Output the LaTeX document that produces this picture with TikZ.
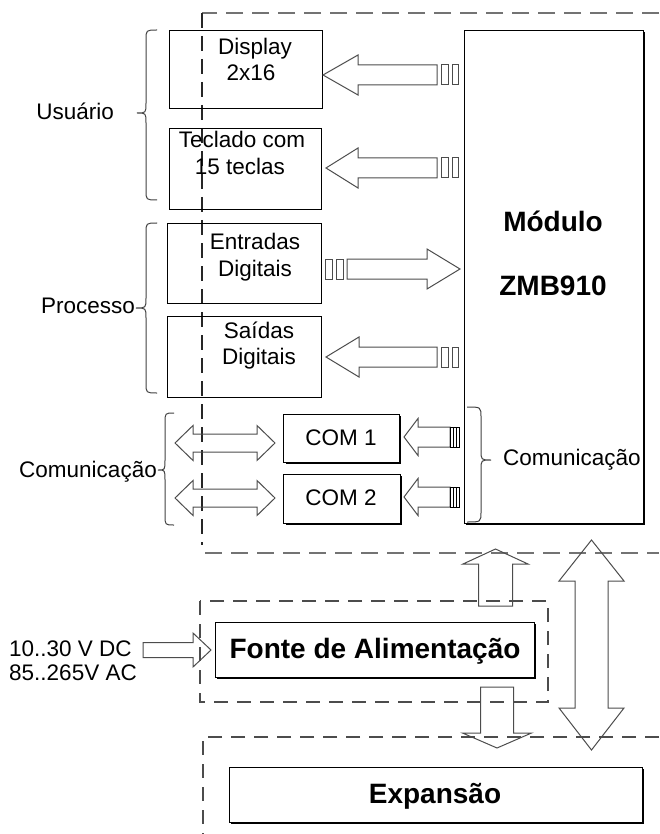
\documentclass[tikz,border=0pt]{standalone}
\usepackage{fontspec}
\setmainfont{Liberation Sans}
\newcommand\blkH[6]{\draw[arr] (#1,#2) -- (#3,#2-#5) -- (#3,#2-#6) -- (#4,#2-#6) -- (#4,#2+#6) -- (#3,#2+#6) -- (#3,#2+#5) -- cycle;}
\newcommand\blkV[6]{\draw[arr] (#2,#1) -- (#2-#5,#3) -- (#2-#6,#3) -- (#2-#6,#4) -- (#2+#6,#4) -- (#2+#6,#3) -- (#2+#5,#3) -- cycle;}
\newcommand\blkHH[6]{\draw[arr] (#1,#3) -- (#1+#4,#3-#5) -- (#1+#4,#3-#6) -- (#2-#4,#3-#6) -- (#2-#4,#3-#5) -- (#2,#3) -- (#2-#4,#3+#5) -- (#2-#4,#3+#6) -- (#1+#4,#3+#6) -- (#1+#4,#3+#5) -- cycle;}
\newcommand\myBrace[7]{% e v t y1 ym y2 r
\draw[brc] (#1,#4) .. controls (#2,#4) and (#2,#4) .. (#2,#4+#7) -- (#2,#5-#7) .. controls (#2,#5) and (#2,#5) .. (#3,#5) .. controls (#2,#5) and (#2,#5) .. (#2,#5+#7) -- (#2,#6-#7) .. controls (#2,#6) and (#2,#6) .. (#1,#6);}
\begin{document}
\begin{tikzpicture}[x=1pt,y=-1pt,
  box/.style={draw=black, line width=1.2pt, inner sep=0pt, anchor=north west},
  arr/.style={draw=black!70, line width=1pt, line join=miter},
  barbox/.style={draw=black!70, line width=1pt},
  brc/.style={draw=black!75, line width=1pt},
  txt/.style={font=\fontsize{22.5}{26}\selectfont, inner sep=0pt, anchor=base},
  btxt/.style={font=\fontsize{28}{32}\selectfont\bfseries, inner sep=0pt, anchor=base},
  dsh/.style={draw=black!55, line width=2pt, dash pattern=on 17pt off 9pt},
  dshv/.style={draw=black!85, line width=1.2pt, dash pattern=on 15pt off 8pt},
  shd/.style={draw=black, line width=1.8pt},
]
\useasboundingbox (0,0) rectangle (659,834);
% dashed regions
\draw[dsh] (659,13) -- (202,13);
\draw[dshv] (202,13) -- (202,545);
\draw[dsh] (205,553) -- (659,553);
\draw[dsh, draw=black!70, line width=1.6pt, dash pattern=on 14pt off 9pt] (200,601) rectangle (548,702);
\draw[dsh, draw=black!70, line width=1.6pt, dash pattern=on 14pt off 9pt] (659,737) -- (203,737) -- (203,834);

% boxes
\node[box, minimum width=153pt, minimum height=78pt] (disp) at (169,30) {};
\node[box, minimum width=152pt, minimum height=81pt] (tecl) at (169,128) {};
\node[box, minimum width=154pt, minimum height=80pt] (entr) at (167,223) {};
\node[box, minimum width=154pt, minimum height=81pt] (said) at (167,316) {};
\node[box, minimum width=116pt, minimum height=48pt] (com1) at (283,414) {};
\node[box, minimum width=117pt, minimum height=49pt] (com2) at (283,474) {};
\node[box, minimum width=179pt, minimum height=493pt] (mod) at (464,30) {};
\node[box, minimum width=319pt, minimum height=55pt] (fonte) at (215,622) {};
\node[box, minimum width=413pt, minimum height=55pt] (exp) at (229,767) {};
% shadows
\draw[shd] (285.5,463) -- (400,463) -- (400,416);
\draw[shd] (285.5,524) -- (401,524) -- (401,476);
\draw[shd] (466,524) -- (644,524) -- (644,32);
\draw[shd] (217,678) -- (535,678) -- (535,624);
\draw[shd] (231,823) -- (643,823) -- (643,769);

% texts
\node[txt] (t1) at (255,55) {Display};
\node[txt] (t2) at (251,81) {2x16};
\node[txt] (t3) at (242,148) {Teclado com};
\node[txt] (t4) at (240,175) {15 teclas};
\node[txt] (t5) at (255,249) {Entradas};
\node[txt] (t6) at (255,276) {Digitais};
\node[txt] (t7) at (259,338) {Saídas};
\node[txt] (t8) at (259,364) {Digitais};
\node[txt] (t9) at (341,445) {COM 1};
\node[txt] (t10) at (341,505) {COM 2};
\node[btxt] (m1) at (553,232) {Módulo};
\node[btxt] (m2) at (553,295) {ZMB910};
\node[btxt] (f1) at (375,658) {Fonte de Alimentação};
\node[btxt] (e1) at (435,803) {Expansão};
\node[txt, anchor=base east] (u1) at (114,120) {Usuário};
\node[txt, anchor=base east] (p1) at (135,313) {Processo};
\node[txt, anchor=base east] (c1) at (157,477) {Comunicação};
\node[txt, anchor=base west] (c2) at (503,465) {Comunicação};
\node[txt, anchor=base west] (v1) at (9,656) {10..30 V DC};
\node[txt, anchor=base west] (v2) at (9,680) {85..265V AC};

% braces
\myBrace{157}{146}{137}{30}{113}{200}{10}
\myBrace{157}{146}{136}{223}{308}{393}{10}
\myBrace{174}{165}{158}{413}{470}{525}{10}
\myBrace{467}{481}{491}{407}{460}{522}{10}

% user/process arrows
\blkH{323}{75}{358}{437}{20}{10}
\draw[barbox] (441,65) rectangle (448,85) (452,65) rectangle (458,85);
\blkH{326}{168}{358}{437}{20}{10}
\draw[barbox] (441,158) rectangle (448,178) (452,158) rectangle (458,178);
\blkH{460}{269}{427}{347}{20}{10}
\draw[barbox] (325,259) rectangle (332,279) (336,259) rectangle (343,279);
\blkH{326}{357}{359}{437}{20}{10}
\draw[barbox] (441,347) rectangle (448,367) (452,347) rectangle (458,367);

% COM arrows
\blkH{404}{437}{418}{450}{18.5}{10}
\draw[line width=1pt] (450,427) rectangle (459,447);
\draw[line width=1.6pt] (453.5,427) -- (453.5,447) (456.5,427) -- (456.5,447);
\blkH{404}{497}{418}{450}{18.5}{10}
\draw[line width=1pt] (450,487) rectangle (459,507);
\draw[line width=1.6pt] (453.5,487) -- (453.5,507) (456.5,487) -- (456.5,507);
\blkHH{175}{275}{443}{18}{17.5}{9}
\blkHH{175}{275}{498}{18}{17.5}{9}

% power arrows
\blkH{211}{650}{193}{143}{17}{7.5}
\blkV{549}{495.5}{564}{606}{32.5}{17}
\blkV{748}{497}{733}{687}{34.5}{16.5}
\draw[arr] (591.5,540) -- (624,581) -- (608,581) -- (608,708) -- (624,708) -- (591.5,750)
  -- (559,708) -- (575,708) -- (575,581) -- (559,581) -- cycle;
\end{tikzpicture}
\end{document}
